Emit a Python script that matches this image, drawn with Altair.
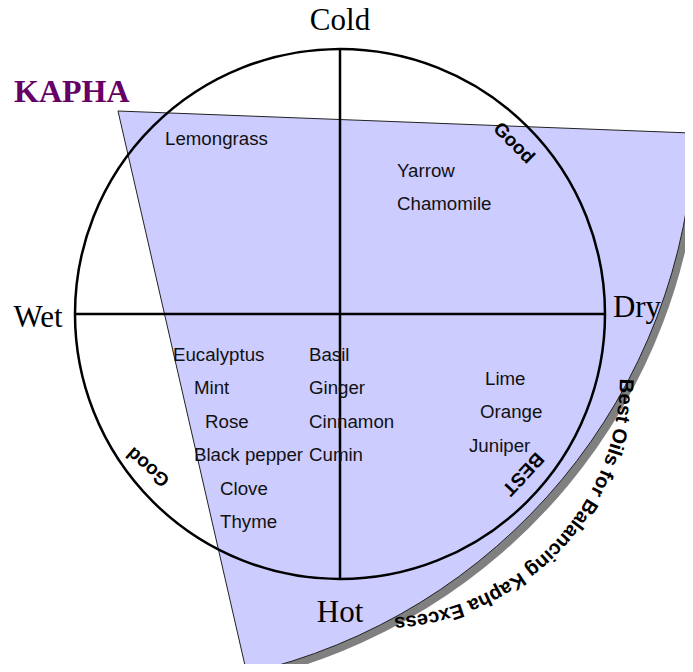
import math
import altair as alt
import pandas as pd

# ---------------- data ----------------
# page-pixel coordinate frame (x right, y down)
X_DOMAIN = [8, 685]
Y_DOMAIN = [8, 664]

# wedge (sector) : vertex, radius, start/end angle (deg, clockwise from 12 o'clock)
wedge_cx = [118]
wedge_cy = [111]
wedge_r = [577]
wedge_t0 = [92.2]
wedge_t1 = [167.1]

# main circle
circle_cx = [340]
circle_cy = [314]
circle_r = [265]

# cross lines
line_x1 = [75, 340]
line_x2 = [606, 340]
line_y1 = [314, 50]
line_y2 = [314, 578]

# quadrant words
dir_labels = ["Cold", "Hot", "Wet", "Dry"]
dir_x = [340, 340, 38, 637]
dir_y = [30, 622, 327, 317]

# title word
kapha_label = ["KAPHA"]
kapha_x = [14]
kapha_y = [102]

# oils
oil_labels = ["Lemongrass", "Yarrow", "Chamomile", "Eucalyptus", "Mint", "Rose",
              "Black pepper", "Clove", "Thyme", "Basil", "Ginger", "Cinnamon",
              "Cumin", "Lime", "Orange", "Juniper"]
oil_x = [165, 397, 397, 173, 194, 205, 194, 220, 220, 309, 309, 309, 309, 485, 480, 469]
oil_y = [145, 177, 210, 361, 394, 428, 461, 495, 528, 361, 394, 428, 461, 385, 418, 452]

# rotated words
rot_labels = ["Good", "Good", "BEST"]
rot_x = [514, 148, 523]
rot_y = [143, 467, 474]
rot_angle = [45, 221, 133]

# curved caption
caption = "Best Oils for Balancing Kapha Excess"
cap_cx, cap_cy, cap_r = 378, 376, 248
cap_t0, cap_t1 = 92.3, 174.9
# Arial Bold advance widths (1/1000 em)
adv = {"B": 722, "e": 556, "s": 556, "t": 333, " ": 278, "O": 778, "i": 278,
       "l": 278, "f": 333, "o": 611, "r": 389, "a": 556, "n": 611, "c": 556,
       "g": 611, "K": 722, "p": 611, "h": 611, "E": 667, "x": 556}

# ---------------- build tables ----------------
centers = []
acc = 0
for ch in caption:
    w = adv[ch]
    centers.append(acc + w / 2)
    acc += w
c0, c1 = centers[0], centers[-1]
cap_rows = []
for ch, c in zip(caption, centers):
    if ch == " ":
        continue
    t = cap_t0 + (c - c0) / (c1 - c0) * (cap_t1 - cap_t0)
    tr = math.radians(t)
    cap_rows.append({"ch": ch,
                     "x": cap_cx + cap_r * math.sin(tr),
                     "y": cap_cy - cap_r * math.cos(tr),
                     "ang": t})
cap_df = pd.DataFrame(cap_rows)

wedge_df = pd.DataFrame({"cx": wedge_cx, "cy": wedge_cy, "r": wedge_r,
                         "t0": [math.radians(v) for v in wedge_t0],
                         "t1": [math.radians(v) for v in wedge_t1]})
circle_df = pd.DataFrame({"x": circle_cx, "y": circle_cy})
lines_df = pd.DataFrame({"x1": line_x1, "x2": line_x2, "y1": line_y1, "y2": line_y2})
dir_df = pd.DataFrame({"t": dir_labels, "x": dir_x, "y": dir_y})
kapha_df = pd.DataFrame({"t": kapha_label, "x": kapha_x, "y": kapha_y})
oil_df = pd.DataFrame({"t": oil_labels, "x": oil_x, "y": oil_y})
rot_df = pd.DataFrame({"t": rot_labels, "x": rot_x, "y": rot_y, "ang": rot_angle})

xs = alt.Scale(domain=X_DOMAIN, nice=False, zero=False)
ys = alt.Scale(domain=Y_DOMAIN, nice=False, zero=False, reverse=True)


def X(f):
    return alt.X(f, type="quantitative", scale=xs, axis=None)


def Y(f):
    return alt.Y(f, type="quantitative", scale=ys, axis=None)


arc_enc = dict(
    x=X("cx"), y=Y("cy"),
    theta=alt.Theta("t0:Q", scale=None, stack=None),
    theta2=alt.Theta2("t1:Q"),
    radius=alt.Radius("r:Q", scale=None),
)

shadow = alt.Chart(wedge_df).mark_arc(fill="#808080", xOffset=6, yOffset=6).encode(**arc_enc)
wedge = alt.Chart(wedge_df).mark_arc(fill="#CCCCFF", stroke="#222222", strokeWidth=1).encode(**arc_enc)

circle = alt.Chart(circle_df).mark_point(
    shape="circle", filled=False, stroke="black", strokeWidth=2.5,
    size=(2 * circle_r[0]) ** 2, opacity=1
).encode(x=X("x"), y=Y("y"))

lines = alt.Chart(lines_df).mark_rule(color="black", strokeWidth=2.5).encode(
    x=X("x1"), x2="x2", y=Y("y1"), y2="y2")

dirs = alt.Chart(dir_df).mark_text(
    font="Liberation Serif", fontSize=31, align="center", baseline="alphabetic", color="black"
).encode(x=X("x"), y=Y("y"), text="t:N")

kapha = alt.Chart(kapha_df).mark_text(
    font="Liberation Serif", fontSize=32, fontWeight="bold", align="left",
    baseline="alphabetic", color="#660066"
).encode(x=X("x"), y=Y("y"), text="t:N")

oils = alt.Chart(oil_df).mark_text(
    font="Liberation Sans", fontSize=18.7, align="left", baseline="alphabetic", color="#111111"
).encode(x=X("x"), y=Y("y"), text="t:N")

rots = alt.Chart(rot_df).mark_text(
    font="Liberation Sans", fontSize=19, fontWeight="bold", align="center",
    baseline="middle", color="black"
).encode(x=X("x"), y=Y("y"), text="t:N", angle=alt.Angle("ang:Q", scale=None))

capt = alt.Chart(cap_df).mark_text(
    font="Liberation Sans", fontSize=20, fontWeight="bold", align="center",
    baseline="middle", color="black"
).encode(x=X("x"), y=Y("y"), text="ch:N", angle=alt.Angle("ang:Q", scale=None))

chart = alt.layer(shadow, wedge, circle, lines, dirs, kapha, oils, rots, capt).properties(
    width=677, height=656, padding=0,
    autosize=alt.AutoSizeParams(type="none"),
).configure_view(stroke=None)

chart.save("out.html", embed_options={"renderer": "svg", "actions": False})
